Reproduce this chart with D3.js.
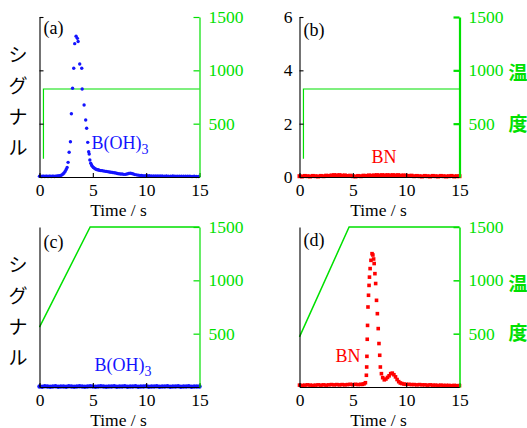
<!DOCTYPE html>
<html>
<head>
<meta charset="utf-8">
<script src="https://cdn.jsdelivr.net/npm/d3@7"></script>
<style>
  body { margin: 0; background: #fff; }
  svg { display: block; font-family: "Liberation Serif", "Times New Roman", serif; }
</style>
</head>
<body>
<div id="chart"></div>
<script>
// signal vs time, [t (s), signal]
const sigA = [
  [0,0.03],[0.1,0.03],[0.2,0.02],[0.3,0.03],[0.4,0.03],[0.5,0.02],[0.6,0.03],[0.7,0.03],[0.8,0.02],[0.9,0.03],
  [1.0,0.03],[1.1,0.02],[1.2,0.03],[1.3,0.03],[1.4,0.02],[1.5,0.03],[1.6,0.03],[1.7,0.04],[1.8,0.04],[1.9,0.05],
  [2.0,0.06],[2.1,0.08],[2.2,0.11],[2.3,0.15],[2.4,0.21],[2.5,0.28],[2.59,0.36],[2.68,0.55],[2.78,0.93],[2.9,1.32],
  [2.99,2.37],[3.1,3.33],[3.21,4.08],[3.3,5.0],[3.43,5.28],[3.55,5.2],[3.62,5.08],[3.77,4.24],[3.96,4.08],[4.0,3.3],
  [4.18,2.7],[4.33,2.14],[4.42,1.83],[4.52,1.3],[4.61,0.95],[4.66,0.86],[4.72,0.64],[4.8,0.52],[4.88,0.45],[4.96,0.4],
  [5.05,0.36],[5.15,0.33],[5.25,0.3],[5.35,0.28],[5.45,0.27],[5.55,0.26],[5.65,0.25],[5.75,0.24],[5.85,0.24],[5.95,0.23],
  [6.1,0.22],[6.25,0.21],[6.4,0.2],[6.55,0.19],[6.7,0.18],[6.85,0.17],[7.0,0.16],[7.15,0.15],[7.3,0.13],[7.45,0.12],
  [7.6,0.11],[7.75,0.11],[7.9,0.1],[8.05,0.1],[8.2,0.11],[8.35,0.13],[8.5,0.14],[8.65,0.13],[8.8,0.11],[8.95,0.09],
  [9.1,0.08],[9.25,0.07],[9.4,0.06],[9.55,0.06],[9.7,0.05],[9.9,0.05],[10.1,0.05],[10.3,0.05],[10.5,0.04],[10.7,0.04],
  [10.9,0.04],[11.1,0.04],[11.3,0.04],[11.5,0.04],[11.7,0.03],[11.9,0.04],[12.1,0.03],[12.3,0.03],[12.5,0.04],[12.7,0.03],
  [12.9,0.03],[13.1,0.03],[13.3,0.03],[13.5,0.03],[13.7,0.03],[13.9,0.03],[14.1,0.03],[14.3,0.02],[14.5,0.03],[14.7,0.02],[14.9,0.02]
];
const sigB = [
  [0,0.03],[0.25,0.02],[0.5,0.04],[0.75,0.03],[1,0.02],[1.25,0.04],[1.5,0.03],[1.75,0.02],[2,0.04],[2.25,0.03],
  [2.5,0.05],[2.75,0.04],[3,0.06],[3.25,0.07],[3.5,0.06],[3.75,0.07],[4,0.05],[4.25,0.06],[4.5,0.04],[4.75,0.05],
  [5,0.03],[5.25,0.02],[5.5,0.04],[5.75,0.03],[6,0.05],[6.25,0.04],[6.5,0.06],[6.75,0.05],[7,0.06],[7.25,0.07],
  [7.5,0.06],[7.75,0.07],[8,0.06],[8.25,0.07],[8.5,0.06],[8.75,0.07],[9,0.06],[9.25,0.07],[9.5,0.05],[9.75,0.06],
  [10,0.05],[10.25,0.04],[10.5,0.05],[10.75,0.03],[11,0.04],[11.25,0.03],[11.5,0.02],[11.75,0.04],[12,0.03],[12.25,0.02],
  [12.5,0.04],[12.75,0.03],[13,0.02],[13.25,0.04],[13.5,0.03],[13.75,0.02],[14,0.03],[14.25,0.04],[14.5,0.02],[14.75,0.03],[15,0.03]
];
const sigC = [
  [0,0.02],[0.25,0.01],[0.5,0.03],[0.75,0.02],[1,0.01],[1.25,0.02],[1.5,0.03],[1.75,0.01],[2,0.02],[2.25,0.02],
  [2.5,0.01],[2.75,0.03],[3,0.02],[3.25,0.01],[3.5,0.02],[3.75,0.03],[4,0.02],[4.25,0.01],[4.5,0.02],[4.75,0.03],
  [5,0.02],[5.25,0.01],[5.5,0.02],[5.75,0.03],[6,0.02],[6.25,0.01],[6.5,0.02],[6.75,0.02],[7,0.03],[7.25,0.01],
  [7.5,0.02],[7.75,0.02],[8,0.03],[8.25,0.01],[8.5,0.02],[8.75,0.02],[9,0.03],[9.25,0.01],[9.5,0.02],[9.75,0.02],
  [10,0.03],[10.25,0.01],[10.5,0.02],[10.75,0.02],[11,0.03],[11.25,0.01],[11.5,0.02],[11.75,0.02],[12,0.03],[12.25,0.01],
  [12.5,0.02],[12.75,0.02],[13,0.03],[13.25,0.01],[13.5,0.02],[13.75,0.02],[14,0.03],[14.25,0.01],[14.5,0.02],[14.75,0.02],[15,0.02]
];
const sigD = [
  [0,0.07],[0.25,0.06],[0.5,0.07],[0.75,0.08],[1,0.07],[1.25,0.06],[1.5,0.07],[1.75,0.08],[2,0.07],[2.25,0.08],
  [2.5,0.07],[2.75,0.08],[3,0.09],[3.25,0.08],[3.5,0.09],[3.75,0.08],[4,0.09],[4.25,0.08],[4.5,0.09],[4.75,0.1],
  [5,0.09],[5.25,0.1],[5.5,0.09],[5.75,0.1],[5.9,0.1],[6.05,0.12],[6.18,0.16],[6.27,0.44],[6.3,0.75],[6.32,1.15],
  [6.35,1.79],[6.38,2.31],[6.42,3.0],[6.47,3.44],[6.52,3.81],[6.56,4.12],[6.62,4.44],[6.7,4.75],[6.8,5.0],[6.88,4.95],
  [6.95,4.8],[7.0,4.63],[7.07,4.25],[7.14,3.88],[7.22,3.25],[7.3,2.75],[7.38,2.19],[7.45,1.63],[7.52,1.19],[7.58,0.75],
  [7.68,0.5],[7.8,0.35],[7.95,0.27],[8.1,0.3],[8.25,0.36],[8.4,0.42],[8.55,0.5],[8.7,0.52],[8.85,0.46],[9.0,0.38],
  [9.15,0.28],[9.3,0.2],[9.45,0.15],[9.6,0.13],[9.8,0.11],[10.0,0.1],[10.25,0.1],[10.5,0.09],[10.75,0.09],[11,0.08],
  [11.25,0.09],[11.5,0.08],[11.75,0.08],[12,0.07],[12.25,0.08],[12.5,0.07],[12.75,0.07],[13,0.06],[13.25,0.07],[13.5,0.06],
  [13.75,0.06],[14,0.06],[14.25,0.05],[14.5,0.06],[14.75,0.05],[15,0.05]
];

// temperature programme, [t (s), temp]
const tempAB = [[0.37,170],[0.37,825],[15,825]];
const tempC = [[0,562],[4.75,1500],[15,1500]];
const tempD = [[0,470],[4.65,1500],[15,1500]];

const timeTicks = [0, 5, 10, 15];
const sigTicks = [0, 2, 4, 6];
const tempTicks = [500, 1000, 1500];
const yLabelChars = ['シ', 'グ', 'ナ', 'ル'];
const y2LabelChars = ['温', '度'];

const W = 527, H = 428, PW = 160, PH = 160;
const GREEN = '#00e000', BLUE = '#1414ff', RED = '#ff0000';
const SERIF = '"Liberation Serif", "Times New Roman", serif';
const FS = 17.5;

const svg = d3.select('#chart').append('svg').attr('width', W).attr('height', H);
svg.append('rect').attr('width', W).attr('height', H).attr('fill', '#fff');

const x = d3.scaleLinear().domain([0, 15]).range([0, PW]);
const y = d3.scaleLinear().domain([0, 6]).range([PH, 0]);
const yT = d3.scaleLinear().domain([0, 1500]).range([PH, 0]);

function styleAxis(g, color, width) {
  g.attr('font-family', null).attr('font-size', null);
  g.selectAll('path, line').attr('stroke', color).attr('stroke-width', width);
  g.selectAll('text').attr('fill', color).style('font-size', FS + 'px').style('font-family', SERIF);
}

function drawPanel(p) {
  const g = svg.append('g').attr('transform', `translate(${p.left},${p.top})`);

  // temperature line
  g.append('path').datum(p.temp)
    .attr('fill', 'none').attr('stroke', GREEN).attr('stroke-width', p.tempWidth)
    .attr('d', d3.line().x(d => x(d[0])).y(d => yT(d[1])));

  // signal markers
  if (p.marker === 'circle') {
    g.append('g').selectAll('circle').data(p.sig).join('circle')
      .attr('cx', d => x(d[0])).attr('cy', d => y(d[1]))
      .attr('r', p.size).attr('fill', p.color);
  } else {
    g.append('g').selectAll('rect').data(p.sig).join('rect')
      .attr('x', d => x(d[0]) - p.size / 2).attr('y', d => y(d[1]) - p.size / 2)
      .attr('width', p.size).attr('height', p.size).attr('fill', p.color);
  }

  // axes
  g.append('g').attr('transform', `translate(0,${PH})`)
    .call(d3.axisBottom(x).tickValues(timeTicks).tickFormat(d3.format('d'))
      .tickSizeInner(-4).tickSizeOuter(0).tickPadding(7))
    .call(a => styleAxis(a, '#000', 1.1));

  const left = d3.axisLeft(y).tickSizeInner(-4).tickSizeOuter(0).tickPadding(7)
    .tickValues(p.leftTicks ? sigTicks : [])
    .tickFormat(p.leftLabels ? d3.format('d') : () => '');
  g.append('g').call(left).call(a => styleAxis(a, '#000', 1.1));

  g.append('g').attr('transform', `translate(${PW},0)`)
    .call(d3.axisRight(yT).tickValues(tempTicks).tickFormat(d3.format('d'))
      .tickSizeInner(-6).tickSizeOuter(0).tickPadding(9))
    .call(a => styleAxis(a, GREEN, p.rightWidth));

  g.append('text').attr('x', PW / 2 - 1).attr('y', PH + 38.5)
    .attr('text-anchor', 'middle').attr('font-size', FS).text('Time / s');

  g.append('text').attr('x', 4).attr('y', p.tagY).attr('font-size', 18).text(p.tag);

  const lab = g.append('text').attr('x', p.nameX).attr('y', p.nameY)
    .attr('font-size', 18).attr('fill', p.color).text(p.name);
  if (p.sub) lab.append('tspan').attr('font-size', 14).attr('dy', 5).text(p.sub);

  if (p.jp) {
    svg.append('g').selectAll('text').data(yLabelChars).join('text')
      .attr('x', 18).attr('y', (d, i) => p.top + 36 + i * 31)
      .attr('text-anchor', 'middle').attr('dominant-baseline', 'central')
      .attr('font-family', '"Noto Sans CJK JP", sans-serif').attr('font-size', 19)
      .text(d => d);
  }
  if (p.jp2) {
    svg.append('g').selectAll('text').data(y2LabelChars).join('text')
      .attr('x', 518).attr('y', (d, i) => p.top + p.jp2[i])
      .attr('text-anchor', 'middle').attr('dominant-baseline', 'central')
      .attr('font-family', '"Noto Sans CJK JP", sans-serif').attr('font-size', 19)
      .attr('font-weight', 'bold').attr('fill', GREEN)
      .text(d => d);
  }
}

drawPanel({ left: 39.5, top: 17, sig: sigA, temp: tempAB, marker: 'circle', size: 1.7, color: BLUE,
  leftTicks: true, leftLabels: false, rightWidth: 1.2, tempWidth: 1.2, tag: '(a)', tagY: 17,
  name: 'B(OH)', sub: '3', nameX: 52, nameY: 132, jp: true });
drawPanel({ left: 299.5, top: 17, sig: sigB, temp: tempAB, marker: 'rect', size: 4, color: RED,
  leftTicks: true, leftLabels: true, rightWidth: 2.2, tempWidth: 1.2, tag: '(b)', tagY: 19,
  name: 'BN', nameX: 72, nameY: 146, jp2: [54, 105] });
drawPanel({ left: 39.5, top: 227, sig: sigC, temp: tempC, marker: 'circle', size: 2.2, color: BLUE,
  leftTicks: false, leftLabels: false, rightWidth: 1.2, tempWidth: 1.5, tag: '(c)', tagY: 21,
  name: 'B(OH)', sub: '3', nameX: 55, nameY: 144, jp: true });
drawPanel({ left: 299.5, top: 227, sig: sigD, temp: tempD, marker: 'rect', size: 3.6, color: RED,
  leftTicks: false, leftLabels: false, rightWidth: 1.5, tempWidth: 1.5, tag: '(d)', tagY: 19,
  name: 'BN', nameX: 36, nameY: 135, jp2: [55, 104] });
</script>
</body>
</html>
